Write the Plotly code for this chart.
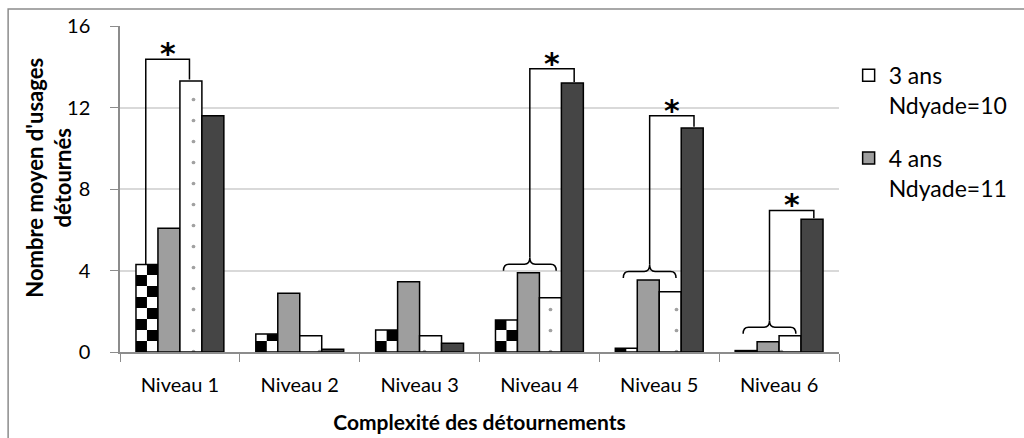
import plotly.graph_objects as go

# Categories and mean values per group
categories = ["Niveau 1", "Niveau 2", "Niveau 3", "Niveau 4", "Niveau 5", "Niveau 6"]
series_names = ["3 ans<br>Ndyade=10", "4 ans<br>Ndyade=11", "Groupe 3", "Groupe 4"]
vals_3ans = [4.3, 0.88, 1.08, 1.57, 0.18, 0.07]
vals_4ans = [6.07, 2.88, 3.45, 3.89, 3.53, 0.5]
vals_g3 = [13.3, 0.8, 0.8, 2.66, 2.96, 0.8]
vals_g4 = [11.6, 0.13, 0.43, 13.2, 11.0, 6.52]

y_ticks = [0, 4, 8, 12, 16]

# Significance brackets: category index, kind, height of the bracket's top line
brackets = [
    (0, "pair", 14.37),
    (3, "brace", 13.9),
    (4, "brace", 11.6),
    (5, "brace", 6.95),
]

FONT = "Lato"
BARGAP = 0.2667
n_series = 4
bar_w = (1 - BARGAP) / n_series
offsets = [(-1.5 + k) * bar_w for k in range(n_series)]

# plot area in pixels (used to keep the checker cells square)
PLOT_W, PLOT_H = 720, 326
Y_MAX = 16

fig = go.Figure()

line_style = dict(color="black", width=1.5)

fig.add_trace(go.Bar(
    x=categories, y=vals_3ans, name=series_names[0],
    marker=dict(color="white", line=line_style),
    legendgroup="a",
))
fig.add_trace(go.Bar(
    x=categories, y=vals_4ans, name=series_names[1],
    marker=dict(color="#9e9e9e", line=line_style),
    legendgroup="b",
))
fig.add_trace(go.Bar(
    x=categories, y=vals_g3, name=series_names[2],
    marker=dict(color="white", line=line_style,
                pattern=dict(shape=".", fgcolor="#444444", bgcolor="white",
                             size=21, solidity=0.025, fillmode="overlay")),
    showlegend=False,
))
fig.add_trace(go.Bar(
    x=categories, y=vals_g4, name=series_names[3],
    marker=dict(color="#454545", line=line_style),
    showlegend=False,
))

shapes = []

# Checkerboard fill for the first series (square cells, two per bar width)
px_per_cat = PLOT_W / len(categories)
px_per_unit = PLOT_H / Y_MAX
cell_h = (bar_w / 2) * px_per_cat / px_per_unit
for i, v in enumerate(vals_3ans):
    xc = i + offsets[0]
    k = 0
    while k * cell_h < v - 1e-9:
        y0 = k * cell_h
        y1 = min((k + 1) * cell_h, v)
        if k % 2 == 0:
            xa, xb = xc - bar_w / 2, xc
        else:
            xa, xb = xc, xc + bar_w / 2
        shapes.append(dict(type="rect", xref="x", yref="y", x0=xa, x1=xb, y0=y0, y1=y1,
                           fillcolor="black", line=dict(width=0), layer="above"))
        k += 1

series_vals = [vals_3ans, vals_4ans, vals_g3, vals_g4]
annotations = []
bk = dict(color="black", width=1.5)
for i, kind, top in brackets:
    right_x = i + offsets[3] + 0.015
    right_y = vals_g4[i] + 0.05
    if kind == "pair":
        left_x = i + offsets[0] - 0.01
        left_y = vals_3ans[i]
        rx = i + offsets[2] - 0.012
        ry = vals_g3[i] + 0.08
        path = f"M{left_x},{left_y} L{left_x},{top} L{rx},{top} L{rx},{ry}"
        mid = (left_x + rx) / 2
    else:
        base = max(series_vals[s][i] for s in range(3)) + 0.1
        x1 = i - 0.30
        x2 = i + 0.14
        xm = (x1 + x2) / 2
        ymid = base + 0.32
        tip = base + 0.65
        d = 0.045
        brace = (f"M{x1},{base} Q{x1},{ymid} {x1 + d},{ymid} L{xm - d},{ymid} "
                 f"Q{xm},{ymid} {xm},{tip} Q{xm},{ymid} {xm + d},{ymid} "
                 f"L{x2 - d},{ymid} Q{x2},{ymid} {x2},{base}")
        shapes.append(dict(type="path", xref="x", yref="y", path=brace, line=bk, layer="above"))
        path = f"M{xm},{tip} L{xm},{top} L{right_x},{top} L{right_x},{right_y}"
        mid = (xm + right_x) / 2
    shapes.append(dict(type="path", xref="x", yref="y", path=path, line=bk, layer="above"))
    annotations.append(dict(x=mid, y=top, xref="x", yref="y", text="<b>*</b>", showarrow=False,
                            yanchor="bottom", yshift=-14,
                            font=dict(family="DejaVu Sans", size=30, color="black")))

# Vertical axis title
annotations.append(dict(
    x=-0.1, y=0.535, xref="paper", yref="paper", textangle=-90, showarrow=False,
    xanchor="center", yanchor="middle",
    text="<b>Nombre moyen d'usages<br>détournés</b>",
    font=dict(family=FONT, size=22, color="black"),
))

# Outer chart frame
shapes.append(dict(type="rect", xref="paper", yref="paper",
                   x0=-0.1556, x1=1.27, y0=-0.29, y1=1.052,
                   line=dict(color="#8c8c8c", width=1.5), fillcolor="rgba(0,0,0,0)", layer="below"))

fig.update_layout(
    width=1024, height=438,
    margin=dict(l=120, r=184, t=26, b=86),
    paper_bgcolor="white", plot_bgcolor="white",
    barmode="group", bargap=BARGAP, bargroupgap=0,
    font=dict(family=FONT, color="black"),
    shapes=shapes,
    annotations=annotations,
    legend=dict(x=1.012, y=0.915, xanchor="left", yanchor="top",
                font=dict(family=FONT, size=23, color="black"),
                tracegroupgap=20, valign="top", bgcolor="rgba(0,0,0,0)"),
    xaxis=dict(
        type="category", tickson="boundaries", ticks="outside", ticklen=8,
        tickcolor="#8c8c8c", showline=True, linecolor="#8c8c8c", linewidth=1.5,
        showgrid=False, ticklabelstandoff=14, automargin=False,
        tickfont=dict(family=FONT, size=20, color="black"),
        title=dict(text="<b>Complexité des détournements</b>", standoff=21,
                   font=dict(family=FONT, size=21, color="black")),
    ),
    yaxis=dict(
        range=[0, Y_MAX], tickvals=y_ticks, ticks="outside", ticklen=8,
        tickcolor="#8c8c8c", showline=True, linecolor="#8c8c8c", linewidth=1.5,
        showgrid=True, gridcolor="#d9d9d9", gridwidth=1.5, zeroline=False,
        ticklabelstandoff=16, automargin=False,
        tickfont=dict(family=FONT, size=20, color="black"),
    ),
)

fig.write_html("out.html")
